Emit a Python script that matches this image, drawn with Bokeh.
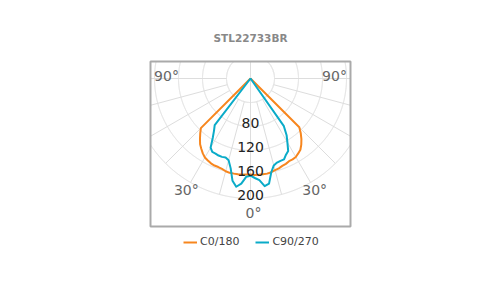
import math
from bokeh.plotting import figure
from bokeh.models import Legend, LegendItem, ColumnDataSource, Range1d
from bokeh.embed import file_html
from bokeh.resources import INLINE
from bokeh.core.properties import value

chart_title = "STL22733BR"

# gamma angles (degrees from nadir)
gamma = [0, 2.5, 5, 7.5, 10, 12.5, 15, 17.5, 20, 22.5, 25, 27.5, 30, 32.5,
         35, 37.5, 40, 42.5, 45, 47.5, 50, 60, 70, 80, 90]

# C0/180 plane (cd/klm)
c0 = [160, 161, 161, 161, 161, 160, 158, 157, 155, 154, 152, 152, 151, 148,
      145, 139, 132, 124, 115, 0, 0, 0, 0, 0, 0]
c180 = [160, 160, 161, 161, 161, 161, 160, 158, 157, 157, 156, 154, 152, 148,
        143, 138, 131, 124, 117, 0, 0, 0, 0, 0, 0]

# C90/270 plane
c90 = [162, 166, 170, 181, 178, 160, 150, 147, 146, 146, 140, 136, 123, 112,
       97, 0, 0, 0, 0, 0, 0, 0, 0, 0, 0]
c270 = [162, 164, 176, 182, 173, 153, 141, 138, 139, 139, 138, 138, 133, 117,
        106, 98, 0, 0, 0, 0, 0, 0, 0, 0, 0]

ring_values = [40, 80, 120, 160, 200]
ring_labels = ["", "80", "120", "160", "200"]
spoke_angles = [0, 15, 30, 45, 60, 75, 90]
angle_ticks = [0, 30, 90]
angle_tick_labels = ["0°", "30°", "90°"]

legend_names = ["C0/180", "C90/270"]
colors = ["#f7861e", "#0aabc8"]

# ---- layout (pixels) ----
W, H = 500, 300
PX = 0.6                        # pixels per cd/klm
POLE_X, POLE_Y = 250, 78        # pole position on canvas
BOX_L, BOX_R, BOX_T, BOX_B = 150, 350, 61, 226

def ux(px):  # canvas x px -> data
    return (px - POLE_X) / PX

def uy(py):  # canvas y px -> data
    return (POLE_Y - py) / PX

p = figure(width=W, height=H, output_backend="svg", toolbar_location=None,
           x_range=Range1d(ux(0), ux(W)), y_range=Range1d(uy(H), uy(0)),
           min_border=0)
p.axis.visible = False
p.grid.visible = False
p.outline_line_color = None
p.background_fill_color = "white"
p.border_fill_color = "white"

bl, br, bt, bb = ux(BOX_L), ux(BOX_R), uy(BOX_T), uy(BOX_B)

def inside(x, y):
    return bl <= x <= br and bb <= y <= bt

def clip(xs, ys):
    ox, oy = [], []
    for x, y in zip(xs, ys):
        if inside(x, y):
            ox.append(x); oy.append(y)
        else:
            ox.append(float("nan")); oy.append(float("nan"))
    return ox, oy

grid_color = "#dddddd"

# rings
for rv in ring_values:
    ts = [i * math.pi / 720 for i in range(1441)]
    xs, ys = clip([rv * math.cos(t) for t in ts], [rv * math.sin(t) for t in ts])
    p.line(xs, ys, line_color=grid_color, line_width=1)

# spokes (both sides), clipped to the box
r_in, r_out = ring_values[0], ring_values[-1]
for a in spoke_angles:
    if a == 0:
        continue
    t = math.radians(a)
    for s in (-1, 1):
        dx, dy = s * math.sin(t), -math.cos(t)
        rmax = r_out
        if dx > 1e-9: rmax = min(rmax, br / dx)
        if dx < -1e-9: rmax = min(rmax, bl / dx)
        if dy < -1e-9: rmax = min(rmax, bb / dy)
        p.line([r_in * dx, rmax * dx], [r_in * dy, rmax * dy],
               line_color=grid_color, line_width=1)
# vertical axis through the pole
p.line([0, 0], [bt, -r_out], line_color=grid_color, line_width=1)


def curve(left, right):
    xs, ys = [], []
    for g, v in zip(reversed(gamma), reversed(left)):
        t = math.radians(g)
        xs.append(-v * math.sin(t)); ys.append(-v * math.cos(t))
    for g, v in zip(gamma[1:], right[1:]):
        t = math.radians(g)
        xs.append(v * math.sin(t)); ys.append(-v * math.cos(t))
    return xs, ys


items = []
for (left, right), name, col in zip([(c180, c0), (c270, c90)], legend_names, colors):
    xs, ys = curve(left, right)
    r = p.line(xs, ys, line_color=col, line_width=2, line_join="round")
    items.append(LegendItem(label=name, renderers=[r]))

# box outline
p.quad(left=[bl], right=[br], top=[bt], bottom=[bb], fill_color=None,
       line_color="#aaaaaa", line_width=2)

# ring labels (sitting just above their ring)
src = ColumnDataSource(dict(x=[0] * len(ring_values), y=[-v for v in ring_values],
                            t=ring_labels))
p.text(x="x", y="y", text="t", source=src, text_align="center",
       text_baseline="middle", y_offset=-4, text_font=value("DejaVu Sans"),
       text_font_size="14px", text_color="#222222")

# angle labels
R_LAB = 214
max_x = ux(BOX_R - 16)
lab_style = dict(text_align="center", text_baseline="middle",
                 text_font=value("DejaVu Sans"), text_font_size="14px",
                 text_color="#666666")
for a, lab in zip(angle_ticks, angle_tick_labels):
    t = math.radians(a)
    sides = (1,) if a == 0 else (-1, 1)
    lx = [max(-max_x, min(max_x, s * R_LAB * math.sin(t))) for s in sides]
    ly = [-R_LAB * math.cos(t)] * len(sides)
    if a == 0:
        p.text(x=lx, y=ly, text=[lab], x_offset=3, y_offset=6, **lab_style)
    elif a == 90:
        p.text(x=lx, y=ly, text=[lab] * 2, y_offset=-3, **lab_style)
    else:
        p.text(x=lx, y=ly, text=[lab] * 2, **lab_style)

# title
p.text(x=[0], y=[uy(37)], text=[chart_title], text_align="center",
       text_baseline="middle", text_font=value("DejaVu Sans"),
       text_font_size="10.5px", text_font_style="bold", text_color="#888888")

legend = Legend(items=items, orientation="horizontal", location=(183, H - 248),
                border_line_color=None, background_fill_alpha=0,
                label_text_font="DejaVu Sans", label_text_font_size="11px",
                label_text_color="#444444", glyph_width=14, glyph_height=12,
                label_height=12, label_standoff=3, spacing=16, margin=0, padding=0)
p.add_layout(legend, "center")

open("out.html", "w").write(file_html(p, INLINE))
